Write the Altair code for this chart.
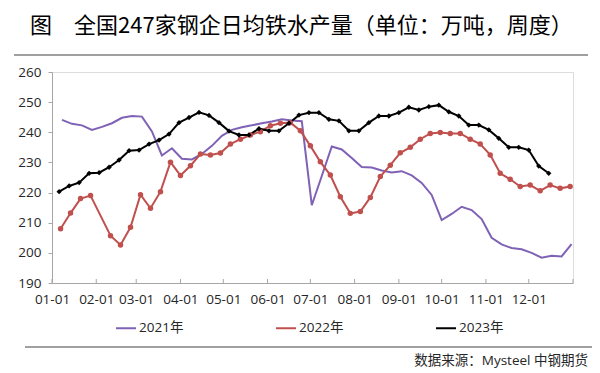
import altair as alt
import pandas as pd

title_text = "图\u3000全国247家钢企日均铁水产量（单位：万吨，周度）"
source_text = "数据来源：Mysteel 中钢期货"

series_names = ["2021年", "2022年", "2023年"]
series_colors = ["#7f62b5", "#c0504d", "#000000"]

month_ticks = ["01-01", "02-01", "03-01", "04-01", "05-01", "06-01",
               "07-01", "08-01", "09-01", "10-01", "11-01", "12-01"]
y_ticks = [190, 200, 210, 220, 230, 240, 250, 260]

dates_2021 = ["01-08", "01-15", "01-22", "01-29", "02-05", "02-12", "02-19", "02-26",
              "03-05", "03-12", "03-19", "03-26", "04-02", "04-09", "04-16", "04-23",
              "04-30", "05-07", "05-14", "05-21", "05-28", "06-04", "06-11", "06-18",
              "06-25", "07-02", "07-09", "07-16", "07-23", "07-30", "08-06", "08-13",
              "08-20", "08-27", "09-03", "09-10", "09-17", "09-24", "10-01", "10-08",
              "10-15", "10-22", "10-29", "11-05", "11-12", "11-19", "11-26", "12-03",
              "12-10", "12-17", "12-24", "12-31"]
values_2021 = [244.1, 242.8, 242.3, 240.8, 241.8, 243.0, 244.8, 245.4,
               245.2, 240.3, 232.3, 234.7, 231.2, 231.0, 232.8, 235.5,
               238.8, 240.8, 241.7, 242.3, 243.0, 243.6, 244.3, 243.9,
               243.7, 215.8, 225.5, 235.3, 234.3, 231.5, 228.5, 228.3,
               227.3, 226.7, 227.1, 225.7, 223.2, 219.2, 210.9, 212.9,
               215.3, 214.2, 211.2, 205.0, 202.8, 201.6, 201.2, 200.0,
               198.4, 199.0, 198.8, 202.9]

dates_2022 = ["01-07", "01-14", "01-21", "01-28", "02-11", "02-18", "02-25", "03-04",
              "03-11", "03-18", "03-25", "04-01", "04-08", "04-15", "04-22", "04-29",
              "05-06", "05-13", "05-20", "05-27", "06-03", "06-10", "06-17", "06-24",
              "07-01", "07-08", "07-15", "07-22", "07-29", "08-05", "08-12", "08-19",
              "08-26", "09-02", "09-09", "09-16", "09-23", "09-30", "10-07", "10-14",
              "10-21", "10-28", "11-04", "11-11", "11-18", "11-25", "12-02", "12-09",
              "12-16", "12-23", "12-30"]
values_2022 = [208.0, 213.2, 218.0, 219.0, 205.7, 202.6, 208.5, 219.3,
               214.8, 220.3, 230.1, 225.7, 228.9, 232.8, 232.5, 233.1,
               236.1, 237.7, 239.1, 240.2, 242.2, 243.0, 243.2, 240.5,
               235.5, 230.2, 225.8, 218.6, 213.1, 213.7, 218.4, 225.3,
               229.1, 233.2, 235.0, 237.7, 239.6, 239.9, 239.6, 239.6,
               237.7, 236.1, 232.5, 226.4, 224.4, 222.0, 222.5, 220.6,
               222.5, 221.4, 222.0]

dates_2023 = ["01-06", "01-13", "01-20", "01-27", "02-03", "02-10", "02-17", "02-24",
              "03-03", "03-10", "03-17", "03-24", "03-31", "04-07", "04-14", "04-21",
              "04-28", "05-05", "05-12", "05-19", "05-26", "06-02", "06-09", "06-16",
              "06-23", "06-30", "07-07", "07-14", "07-21", "07-28", "08-04", "08-11",
              "08-18", "08-25", "09-01", "09-08", "09-15", "09-22", "09-29", "10-06",
              "10-13", "10-20", "10-27", "11-03", "11-10", "11-17", "11-24", "12-01",
              "12-08", "12-15"]
values_2023 = [220.3, 222.2, 223.3, 226.4, 226.6, 228.4, 230.8, 233.9,
               234.1, 236.1, 237.4, 239.4, 243.2, 244.9, 246.6, 245.6,
               243.2, 240.4, 239.1, 239.1, 241.2, 240.5, 240.5, 243.0,
               245.7, 246.5, 246.5, 244.3, 243.8, 240.5, 240.5, 243.2,
               245.4, 245.4, 246.5, 248.3, 247.4, 248.5, 249.0, 246.8,
               245.4, 242.4, 242.4, 240.8, 238.0, 235.0, 235.0, 234.1,
               228.8, 226.4]

# ---- build tables (common dummy year for month-day positioning) ----
frames = []
for name, d, v in zip(series_names, [dates_2021, dates_2022, dates_2023],
                      [values_2021, values_2022, values_2023]):
    frames.append(pd.DataFrame({
        "date": pd.to_datetime(["2023-" + s for s in d]),
        "value": v,
        "series": name,
    }))
df = pd.concat(frames, ignore_index=True)

tick_df = pd.DataFrame({"date": pd.to_datetime(["2023-" + s for s in month_ticks] + ["2024-01-01"])})

W, H = 521, 211
FONT = "Open Sans, Noto Sans CJK SC, sans-serif"
AXIS_GRAY = "#a6a6a6"
TEXT = "#262626"

x_scale = alt.Scale(domain=[alt.DateTime(year=2023, month=1, date=1),
                            alt.DateTime(year=2024, month=1, date=1)], nice=False)
y_scale = alt.Scale(domain=[190, 260], nice=False, zero=False)

x_axis = alt.Axis(values=[alt.DateTime(year=2023, month=m, date=1) for m in range(1, 13)],
                  format="%m-%d", title=None, grid=False, tickSize=0,
                  labelPadding=9, domainColor=AXIS_GRAY, labelColor=TEXT,
                  labelFont=FONT, labelFontSize=13.5, labelAngle=0,
                  labelOverlap=False, labelFlush=False)
y_axis = alt.Axis(values=y_ticks, title=None, grid=False, tickSize=4,
                  tickColor=AXIS_GRAY, domainColor=AXIS_GRAY, labelPadding=7,
                  labelColor=TEXT, labelFont=FONT, labelFontSize=13.5,
                  labelOverlap=False)

X = alt.X("date:T", scale=x_scale, axis=x_axis)
Y = alt.Y("value:Q", scale=y_scale, axis=y_axis)

color = alt.Color("series:N",
                  scale=alt.Scale(domain=series_names, range=series_colors),
                  legend=alt.Legend(title=None, orient="none", legendX=63, legendY=245,
                                    direction="horizontal", symbolType="stroke",
                                    symbolSize=400, symbolStrokeWidth=2,
                                    labelFont=FONT, labelFontSize=13.5,
                                    labelColor=TEXT, columnPadding=88,
                                    labelOffset=2))

lines = alt.Chart(df).mark_line(strokeWidth=2).encode(
    x=X, y=Y, color=color, detail="series:N",
)

pts22 = alt.Chart(df).transform_filter(alt.datum.series == "2022年").mark_point(
    shape="circle", filled=True, size=30, color="#c0504d", opacity=1
).encode(x=X, y=Y)

pts23 = alt.Chart(df).transform_filter(alt.datum.series == "2023年").mark_point(
    shape="diamond", filled=True, size=28, color="#000000", opacity=1
).encode(x=X, y=Y)

ticks = alt.Chart(tick_df).mark_rule(color=AXIS_GRAY, strokeWidth=1).encode(
    x=X,
    y=alt.value(H),
    y2=alt.value(H - 4),
)

one = pd.DataFrame({"t": [0]})
title_mark = alt.Chart(pd.DataFrame({"t": [title_text]})).mark_text(
    align="left", baseline="middle", font="Noto Sans CJK SC", fontSize=22, color="#000000"
).encode(text="t:N", x=alt.value(-22), y=alt.value(-46))

top_rule = alt.Chart(one).mark_rule(color="#404040", strokeWidth=1).encode(
    x=alt.value(-38), x2=alt.value(536), y=alt.value(-17))

bottom_rule = alt.Chart(one).mark_rule(color="#404040", strokeWidth=1).encode(
    x=alt.value(-27), x2=alt.value(541), y=alt.value(275))

source_mark = alt.Chart(pd.DataFrame({"t": [source_text]})).mark_text(
    align="right", baseline="middle", font=FONT, fontSize=13.5, color=TEXT
).encode(text="t:N", x=alt.value(536), y=alt.value(289))

chart = alt.layer(
    ticks, lines, pts22, pts23, title_mark, top_rule, bottom_rule, source_mark
).properties(
    width=W, height=H,
    autosize=alt.AutoSizeParams(type="none"),
    padding={"left": 44, "top": 64, "right": 19, "bottom": 90},
).configure_view(stroke=None).configure(background="white")

chart.save("out.html", embed_options={"renderer": "svg", "actions": False})
